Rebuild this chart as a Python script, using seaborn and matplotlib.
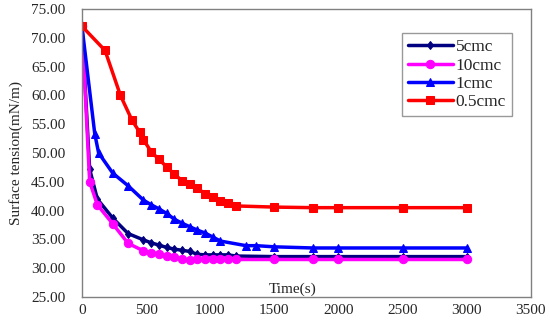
import matplotlib
matplotlib.use("Agg")
import matplotlib.pyplot as plt
import matplotlib.ticker as mticker
import numpy as np
import pandas as pd
import seaborn as sns

# time points (s) and surface tension (mN/m) for each concentration
time5 = [0, 60, 120, 240, 360, 480, 540, 600, 660, 720, 780, 840, 900, 960, 1020, 1080, 1140, 1200, 1500, 1800, 2000, 2500, 3000]
st5 = [72.0, 47.2, 42.0, 38.7, 36.0, 34.9, 34.4, 34.0, 33.6, 33.3, 33.1, 32.9, 32.4, 32.3, 32.3, 32.3, 32.3, 32.1, 32.0, 32.0, 32.0, 32.0, 32.0]

time10 = [0, 60, 120, 240, 360, 480, 540, 600, 660, 720, 780, 840, 900, 960, 1020, 1080, 1140, 1200, 1500, 1800, 2000, 2500, 3000]
st10 = [72.0, 45.0, 41.0, 37.7, 34.3, 33.0, 32.7, 32.4, 32.1, 31.9, 31.5, 31.4, 31.5, 31.5, 31.5, 31.5, 31.5, 31.5, 31.5, 31.5, 31.5, 31.5, 31.5]

time1 = [0, 100, 130, 240, 360, 480, 540, 600, 660, 720, 780, 840, 900, 960, 1020, 1080, 1280, 1360, 1500, 1800, 2000, 2500, 3000]
st1 = [72.0, 53.3, 50.0, 46.5, 44.3, 41.8, 41.0, 40.3, 39.5, 38.5, 37.8, 37.2, 36.6, 36.1, 35.4, 34.7, 33.9, 33.9, 33.7, 33.5, 33.5, 33.5, 33.5]

time05 = [0, 180, 300, 390, 450, 480, 540, 600, 660, 720, 780, 840, 900, 960, 1020, 1080, 1140, 1200, 1500, 1800, 2000, 2500, 3000]
st05 = [72.0, 67.8, 60.0, 55.7, 53.6, 52.3, 50.2, 48.9, 47.6, 46.3, 45.2, 44.6, 43.9, 42.9, 42.4, 41.6, 41.3, 40.8, 40.6, 40.5, 40.5, 40.5, 40.5]

labels = ["5cmc", "10cmc", "1cmc", "0.5cmc"]
series = [(time5, st5), (time10, st10), (time1, st1), (time05, st05)]
colours = ["#000080", "#FF00FF", "#0000FF", "#FF0000"]
markers = ["d", "o", "^", "s"]
markerSizes = [4.5, 6, 5.5, 6]

sns.set_style("white")
plt.rcParams["font.family"] = ["Liberation Serif", "DejaVu Serif"]

fig = plt.figure(figsize=(5.5, 3.21), dpi=100)
ax = fig.add_axes([0.149, 0.075, 0.816, 0.897])

for label, (t, v), c, m, ms in zip(labels, series, colours, markers, markerSizes):
    df = pd.DataFrame({"Time": t, "Tension": v})
    sns.lineplot(data=df, x="Time", y="Tension", ax=ax, color=c, marker=m,
                 markersize=ms, markeredgecolor=c, linewidth=2.5, label=label)

ax.set_xlim(0, 3500)
ax.set_ylim(25, 75)
ax.set_xticks(np.arange(0, 3501, 500))
ax.set_yticks(np.arange(25, 76, 5))
ax.yaxis.set_major_formatter(mticker.FormatStrFormatter("%.2f"))
ax.tick_params(direction="in", length=3, labelsize=11, color="#808080")
ax.tick_params(axis="y", pad=12)
ax.tick_params(axis="x", pad=5)
for s in ax.spines.values():
    s.set_color("#808080")
    s.set_linewidth(1.0)

ax.set_xlabel("")
ax.set_ylabel("Surface tension(mN/m)", fontsize=11, labelpad=6)
ax.text(1645, 25.2, "Time(s)", ha="center", va="bottom", fontsize=11)

leg = ax.legend(loc="upper right", bbox_to_anchor=(0.958, 0.916), fontsize=12.5,
                frameon=True, fancybox=False, handlelength=2.6, handletextpad=0.15,
                borderpad=0.35, labelspacing=0.12, borderaxespad=0)
leg.get_frame().set_edgecolor("#808080")
leg.get_frame().set_linewidth(1.0)

fig.savefig("out.png", dpi=100)
